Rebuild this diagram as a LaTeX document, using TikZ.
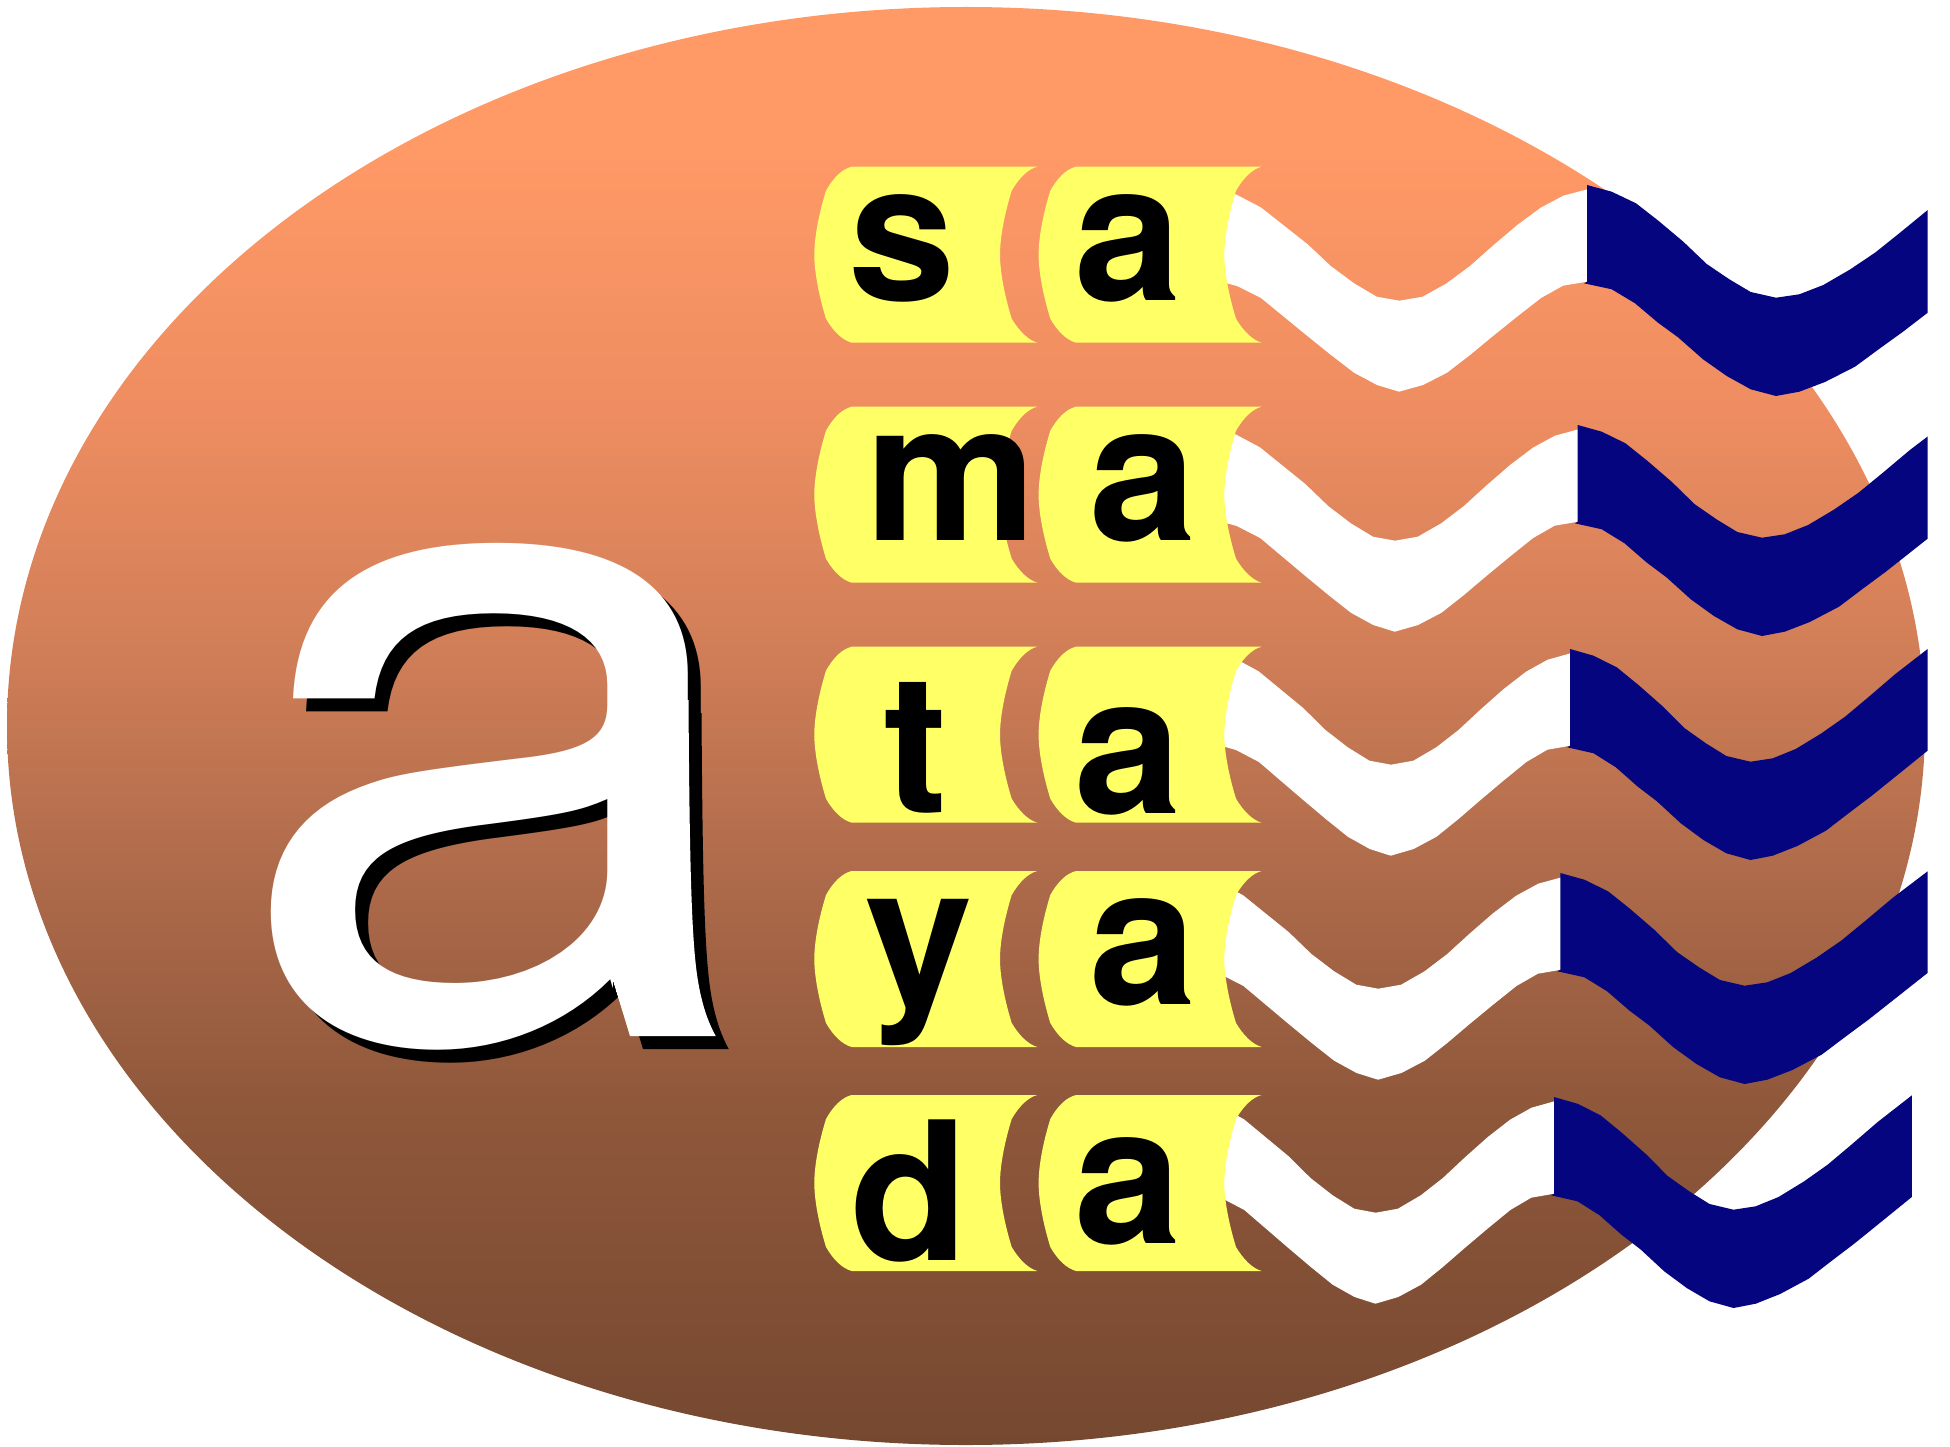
\documentclass[tikz,border=0pt]{standalone}
\usepackage{fontspec}
\setmainfont{TeX Gyre Heros}
\definecolor{ellTop}{HTML}{FF9966}
\definecolor{ellA}{HTML}{EE8D61}
\definecolor{ellB}{HTML}{D27F58}
\definecolor{ellC}{HTML}{AD6A4A}
\definecolor{ellD}{HTML}{90583B}
\definecolor{ellBot}{HTML}{754830}
\definecolor{banner}{HTML}{FFFF66}
\definecolor{navyflag}{HTML}{050580}
\pgfdeclareverticalshading{ellgrad}{100bp}{color(0bp)=(ellBot); color(25bp)=(ellBot); color(37bp)=(ellD); color(44.6bp)=(ellC); color(53bp)=(ellB); color(61bp)=(ellA); color(70bp)=(ellTop); color(100bp)=(ellTop)}
\def\ybanner{(851.7,166.7) -- (1037.3,166.7) .. controls (1028,169) and (1019,178) .. (1011.7,190.7) .. controls (1005.7,210) and (1000,235) .. (1000,254.7) .. controls (1000,274) and (1005.7,299.4) .. (1011.7,318.7) .. controls (1019,331) and (1028,340) .. (1037.3,342.7) -- (851.7,342.7) .. controls (842,340) and (833,331) .. (826,318.7) .. controls (820,299.4) and (814.3,274) .. (814.3,254.7) .. controls (814.3,235) and (820,210) .. (826,190.7) .. controls (833,178) and (842,169) .. (851.7,166.7) -- cycle}
\def\whitewave{(1200,200) -- (1235.7,194.3) -- (1260.7,207.3) -- (1307.3,244) -- (1330.7,266) -- (1354,283.3) -- (1376.7,296.7) -- (1399.3,300.7) -- (1422.7,296.7) -- (1446.7,283.3) -- (1470,266) -- (1493.3,245.3) -- (1517.3,225) -- (1540.7,207.7) -- (1563.3,195.7) -- (1590,188.6) -- (1590,281.2) -- (1563,285.7) -- (1541,298) -- (1517,316.7) -- (1493,336) -- (1470,355) -- (1447,372.7) -- (1423,385) -- (1399,391.7) -- (1377,385) -- (1354,372.7) -- (1331,355) -- (1307,335.7) -- (1261,298) -- (1237,286) -- (1200,276) -- cycle}
\def\bluewave{(1587,185) -- (1611.7,191.7) -- (1636,203.3) -- (1658.3,220.7) -- (1683.3,241.7) -- (1706.7,264) -- (1729.3,279.3) -- (1750.7,292) -- (1776,297.7) -- (1799.3,294.3) -- (1823.3,285) -- (1850,269.5) -- (1875,252.7) -- (1900,232.7) -- (1927.7,210) -- (1963.6,183.4) -- (1963.6,285) -- (1927.7,312.7) -- (1903,331.7) -- (1880,348.3) -- (1855,366.7) -- (1825,382) -- (1799.3,391.7) -- (1776,396) -- (1750.7,389.3) -- (1726.7,376) -- (1703,359.3) -- (1678,337.3) -- (1658,322.7) -- (1635,303.3) -- (1611.7,289.3) -- (1584,283.3) -- (1587,281.7) -- cycle}
\tikzset{
  bigletter/.style={anchor=base,inner sep=0pt,xscale=1.06,transform shape,font=\fontsize{915}{915}\selectfont},
  smallletter/.style={anchor=base,inner sep=0pt,text=black,font=\bfseries\fontsize{193}{193}\selectfont}
}
\newcommand{\bigglyph}[2]{%
  \begin{scope}
    \clip (0,0) -- (689.6,0) -- (689.6,1030) -- (628,1030) -- (612,977) -- (612,1100) -- (0,1100) -- cycle;
    \node[bigletter,text=#1] (#2) at (500,1036) {a};
  \end{scope}
  \fill[#1] (670,700) -- (688.5,700) .. controls (689.5,850) and (691,940) .. (698,981) .. controls (702,1005) and (708,1022) .. (715.7,1036) -- (630,1036) -- (612,977) -- (650,900) -- cycle;
}
\begin{document}
\begin{tikzpicture}[x=1pt,y=-1pt]
\useasboundingbox (0,0) rectangle (1950,1447);
\fill[white] (0,0) rectangle (1950,1447);
\shade[shading=ellgrad] (966,726) ellipse [x radius=959pt,y radius=719pt];
% big letter
\begin{scope}[shift={(13,13)}]\bigglyph{black}{bigshadow}\end{scope}
\bigglyph{white}{bigfront}
% row 1
\fill[white] \whitewave;
\begin{scope}\clip (0,0) rectangle (1927.7,1447);\fill[navyflag] \bluewave;\end{scope}
% row 2
\begin{scope}[shift={(1395,240)},xscale=0.975,shift={(-1399.3,0)}]\fill[white] \whitewave;\end{scope}
\begin{scope}\clip (0,0) rectangle (1927.7,1447);
\begin{scope}[shift={(1577.7,240)},xscale=0.975,shift={(-1587,0)}]\fill[navyflag] \bluewave;\end{scope}
\end{scope}
% row 3
\begin{scope}[shift={(1391,464)},xscale=0.955,shift={(-1399.3,0)}]\fill[white] \whitewave;\end{scope}
\begin{scope}\clip (0,0) rectangle (1927.7,1447);
\begin{scope}[shift={(1570,464)},xscale=0.955,shift={(-1587,0)}]\fill[navyflag] \bluewave;\end{scope}
\end{scope}
% row 4
\begin{scope}[shift={(1378.3,688)},xscale=0.975,shift={(-1399.3,0)}]\fill[white] \whitewave;\end{scope}
\begin{scope}\clip (0,0) rectangle (1927.7,1447);
\begin{scope}[shift={(1560.3,688)},xscale=0.975,shift={(-1587,0)}]\fill[navyflag] \bluewave;\end{scope}
\end{scope}
% row 5
\begin{scope}[shift={(1375.7,912)},xscale=0.95,shift={(-1399.3,0)}]\fill[white] \whitewave;\end{scope}
\begin{scope}[shift={(1554,912)},xscale=0.95,shift={(-1587,0)}]\fill[navyflag] \bluewave;\end{scope}
% yellow banners
\foreach \dy in {0,240,480,704.3,928.3}{
  \fill[banner,shift={(0,\dy)}] \ybanner;
  \fill[banner,shift={(224.3,\dy)}] \ybanner;
}
% letters
\node[smallletter] (s1) at (902,300) {s};
\node[smallletter] (a1) at (1128,300) {a};
\node[smallletter] (m2) at (951,540) {m};
\node[smallletter] (a2) at (1143,540) {a};
\node[smallletter] (t3) at (916,812) {t};
\node[smallletter] (a3) at (1128,813) {a};
\node[smallletter] (y4) at (919,1003) {y};
\node[smallletter] (a4) at (1143,1004) {a};
\node[smallletter] (d5) at (909,1260) {d};
\node[smallletter] (a5) at (1128,1243) {a};
\end{tikzpicture}
\end{document}
